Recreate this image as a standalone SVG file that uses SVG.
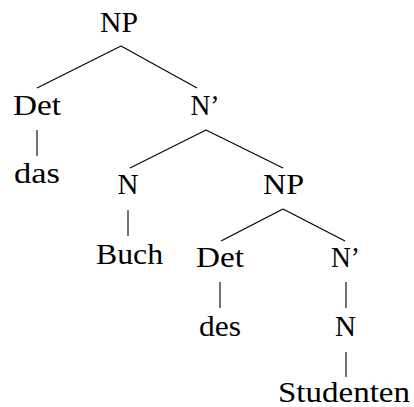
<svg xmlns="http://www.w3.org/2000/svg" width="414" height="407" viewBox="0 0 414 407">
<style>
.e line{stroke:#000;stroke-width:1.1}
</style>
<rect width="414" height="407" fill="#fff"/>
<g class="e" id="connectors">
<line x1="121" y1="46" x2="37" y2="88"/>
<line x1="121" y1="46" x2="197" y2="88"/>
<line x1="37" y1="130" x2="37" y2="156"/>
<line x1="206" y1="130" x2="130" y2="168"/>
<line x1="206" y1="130" x2="283" y2="168"/>
<line x1="128" y1="210" x2="128" y2="236"/>
<line x1="283" y1="209" x2="221" y2="241"/>
<line x1="283" y1="209" x2="345" y2="241"/>
<line x1="220" y1="282" x2="220" y2="308"/>
<line x1="346" y1="282" x2="346" y2="308"/>
<line x1="346" y1="352" x2="346" y2="377"/>
</g>
<g font-family="Liberation Serif, Times New Roman, serif" font-size="29" fill="#000" text-anchor="middle">
<g id="np1"><text x="119" y="32" textLength="38" lengthAdjust="spacingAndGlyphs">NP</text></g>
<g id="det1"><text x="37" y="115" textLength="48" lengthAdjust="spacingAndGlyphs">Det</text></g>
<g id="nbar1"><text x="205" y="115" textLength="29" lengthAdjust="spacingAndGlyphs">N’</text></g>
<g id="das"><text x="37" y="183" textLength="46" lengthAdjust="spacingAndGlyphs">das</text></g>
<g id="n1"><text x="128" y="194" textLength="21" lengthAdjust="spacingAndGlyphs">N</text></g>
<g id="np2"><text x="283.5" y="194" textLength="41" lengthAdjust="spacingAndGlyphs">NP</text></g>
<g id="buch"><text x="129.5" y="264" textLength="67" lengthAdjust="spacingAndGlyphs">Buch</text></g>
<g id="det2"><text x="220" y="267" textLength="48" lengthAdjust="spacingAndGlyphs">Det</text></g>
<g id="nbar2"><text x="345.5" y="267" textLength="29" lengthAdjust="spacingAndGlyphs">N’</text></g>
<g id="des"><text x="220" y="336" textLength="42" lengthAdjust="spacingAndGlyphs">des</text></g>
<g id="n2"><text x="345.5" y="336" textLength="21" lengthAdjust="spacingAndGlyphs">N</text></g>
<g id="studenten"><text x="344" y="402" textLength="132" lengthAdjust="spacingAndGlyphs">Studenten</text></g>
</g>
</svg>
